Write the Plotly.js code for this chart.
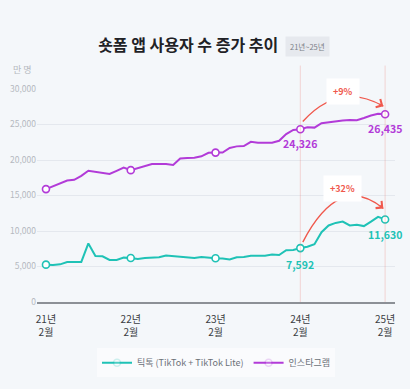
<!DOCTYPE html>
<html>
<head>
<meta charset="utf-8">
<script src="https://cdn.plot.ly/plotly-3.0.1.min.js"></script>
<style>html,body{margin:0;padding:0;background:#f4f7fa;}#chart{width:410px;height:389px;}</style>
</head>
<body>
<div id="chart"></div>
<script>
// Months from 21년 2월 (index 0) to 25년 2월 (index 48)
const monthIndex = Array.from({length: 49}, (_, i) => i);
const tickPositions = [0, 12, 24, 36, 48];
const tickYearLabels = ["21년", "22년", "23년", "24년", "25년"];
const tickMonthLabels = ["2월", "2월", "2월", "2월", "2월"];

const tiktok = [5260, 5210, 5300, 5620, 5640, 5640, 8250, 6480, 6440, 5930, 5930, 6250,
  6200, 6070, 6200, 6300, 6300, 6550, 6480, 6440, 6340, 6200, 6340, 6300,
  6160, 6110, 5980, 6300, 6340, 6520, 6570, 6520, 6700, 6610, 7300, 7340,
  7592, 7790, 8150, 9830, 10780, 11140, 11320, 10780, 10870, 10690, 11320, 12000,
  11630];
const instagram = [15900, 16270, 16715, 17120, 17210, 17760, 18480, 18350, 18210, 18030, 18480, 18930,
  18570, 18840, 19110, 19430, 19430, 19420, 19300, 20200, 20290, 20330, 20520, 21020,
  21040, 21060, 21700, 21920, 21970, 22560, 22420, 22420, 22420, 22700, 23650, 24230,
  24326, 24600, 24560, 25190, 25330, 25420, 25550, 25640, 25600, 25920, 26270, 26500,
  26435];
const seriesNames = ["틱톡 (TikTok + TikTok Lite)", "인스타그램"];
const growthLabels = ["+9%", "+32%"];

const purple = "#b23bd8";
const teal = "#1fc2b6";
const red = "#f0584c";

const yMax = 30000;
const xRange = [-1.27, 49.4];

function lineTrace(y, name, color) {
  return {x: monthIndex, y: y, name: name, type: "scatter", mode: "lines+markers",
    line: {color: color, width: 2},
    marker: {size: 7, color: "#ffffff", line: {color: color, width: 1.6},
      opacity: monthIndex.map(i => tickPositions.includes(i) ? 1 : 0)}};
}
const traces = [
  lineTrace(tiktok, seriesNames[0], teal),
  lineTrace(instagram, seriesNames[1], purple),
  // carrier for the second row of x tick labels (no visible marks)
  {x: tickPositions, y: tickPositions.map(() => null), xaxis: "x2", yaxis: "y", type: "scatter", mode: "lines",
   showlegend: false, hoverinfo: "skip", line: {width: 0}}
];

const s = 36, e = 48;
function fmt(v) { return v.toLocaleString("en-US"); }

function arc(y0, y1, ctrlY) {
  const x0 = s + 0.35, x1 = e - 0.25, cx = 41.5;
  return {path: `M ${x0} ${y0} Q ${cx} ${ctrlY} ${x1} ${y1}`, x0, x1, cx};
}
const instaEndY = instagram[e] + 1150, instaCtrl = 31100;
const tiktokEndY = tiktok[e] + 1550, tiktokCtrl = 18300;
const instaArc = arc(instagram[s] + 1100, instaEndY, instaCtrl);
const tiktokArc = arc(tiktok[s] + 850, tiktokEndY, tiktokCtrl);

const shapes = [
  {type: "line", xref: "x", yref: "paper", x0: s, x1: s, y0: 0, y1: 1.11, line: {color: "rgba(240,110,100,0.25)", width: 1}},
  {type: "line", xref: "x", yref: "paper", x0: e, x1: e, y0: 0, y1: 1.11, line: {color: "rgba(240,110,100,0.25)", width: 1}},
  {type: "path", xref: "x", yref: "y", path: instaArc.path, line: {color: red, width: 1.4}},
  {type: "path", xref: "x", yref: "y", path: tiktokArc.path, line: {color: red, width: 1.4}}
];

function arrowHead(a, y1, ctrlY) {
  const t = 0.12;
  return {x: a.x1, y: y1, ax: a.x1 - t * (a.x1 - a.cx), ay: y1 - t * (y1 - ctrlY),
    xref: "x", yref: "y", axref: "x", ayref: "y", showarrow: true, arrowhead: 4,
    arrowsize: 1.3, arrowwidth: 1.4, arrowcolor: red, text: ""};
}

const annotations = [
  {text: "만 명", xref: "paper", yref: "paper", x: -0.04, y: 1.09, xanchor: "center", yanchor: "middle", showarrow: false,
   font: {size: 9, color: "#b5b9bf"}},
  {text: "21년~25년", xref: "paper", yref: "paper", x: 0.755, y: 1.2, yanchor: "middle", xanchor: "center",
   showarrow: false, font: {size: 7.5, color: "#7a7f86"}, bgcolor: "#e6e9ee", borderpad: 4},
  {text: fmt(instagram[s]), x: s, y: instagram[s], yshift: -14, showarrow: false, font: {size: 10.5, color: purple, weight: 700}},
  {text: fmt(instagram[e]), x: e, y: instagram[e], yshift: -14, showarrow: false, font: {size: 10.5, color: purple, weight: 700}},
  {text: fmt(tiktok[s]), x: s, y: tiktok[s], yshift: -16, showarrow: false, font: {size: 10.5, color: teal, weight: 700}},
  {text: fmt(tiktok[e]), x: e, y: tiktok[e], yshift: -15, showarrow: false, font: {size: 10.5, color: teal, weight: 700}},
  {text: growthLabels[0], x: 42, xref: "x", yref: "paper", y: 31550 / yMax, showarrow: false, bgcolor: "#ffffff", borderpad: 6,
   font: {size: 9, color: red, weight: 700}},
  {text: growthLabels[1], x: 42, y: 16000, showarrow: false, bgcolor: "#ffffff", borderpad: 6,
   font: {size: 9, color: red, weight: 700}},
  arrowHead(instaArc, instaEndY, instaCtrl),
  arrowHead(tiktokArc, tiktokEndY, tiktokCtrl)
];

const layout = {
  width: 410, height: 389,
  paper_bgcolor: "#f4f7fa", plot_bgcolor: "#f4f7fa",
  font: {family: "Noto Sans CJK KR, Noto Sans, sans-serif", color: "#555"},
  margin: {l: 37, r: 15, t: 89, b: 79},
  title: {text: "<b>숏폼 앱 사용자 수 증가 추이</b>", xref: "container", yref: "container", x: 0.459, y: 0.884,
    xanchor: "center", yanchor: "middle", font: {size: 16, color: "#1f2226"}},
  xaxis: {range: xRange, tickvals: tickPositions, ticktext: tickYearLabels, showgrid: false, zeroline: false,
    showline: true, linecolor: "#8c9096", linewidth: 1.5, ticks: "", ticklabelstandoff: 7,
    tickfont: {size: 10, color: "#3a3d42"}, fixedrange: true},
  xaxis2: {range: xRange, overlaying: "x", side: "bottom", anchor: "y", tickvals: tickPositions, ticktext: tickMonthLabels,
    showgrid: false, zeroline: false, showline: false, ticks: "", ticklabelstandoff: 23,
    tickfont: {size: 10, color: "#3a3d42"}, fixedrange: true},
  yaxis: {range: [0, yMax], tickvals: [0, 5000, 10000, 15000, 20000, 25000, 30000], tickformat: ",d",
    gridcolor: "#e4e8ee", gridwidth: 1, zeroline: false, showline: false, ticks: "",
    tickfont: {size: 8.5, color: "#b5b9bf"}, fixedrange: true},
  showlegend: true,
  legend: {orientation: "h", x: 0.5, xanchor: "center", y: -0.285, yanchor: "middle",
    font: {size: 9, color: "#6b7078"}, bgcolor: "rgba(255,255,255,0.55)", itemwidth: 30},
  shapes: shapes,
  annotations: annotations
};

Plotly.newPlot("chart", traces, layout, {displayModeBar: false, staticPlot: true});
</script>
</body>
</html>
